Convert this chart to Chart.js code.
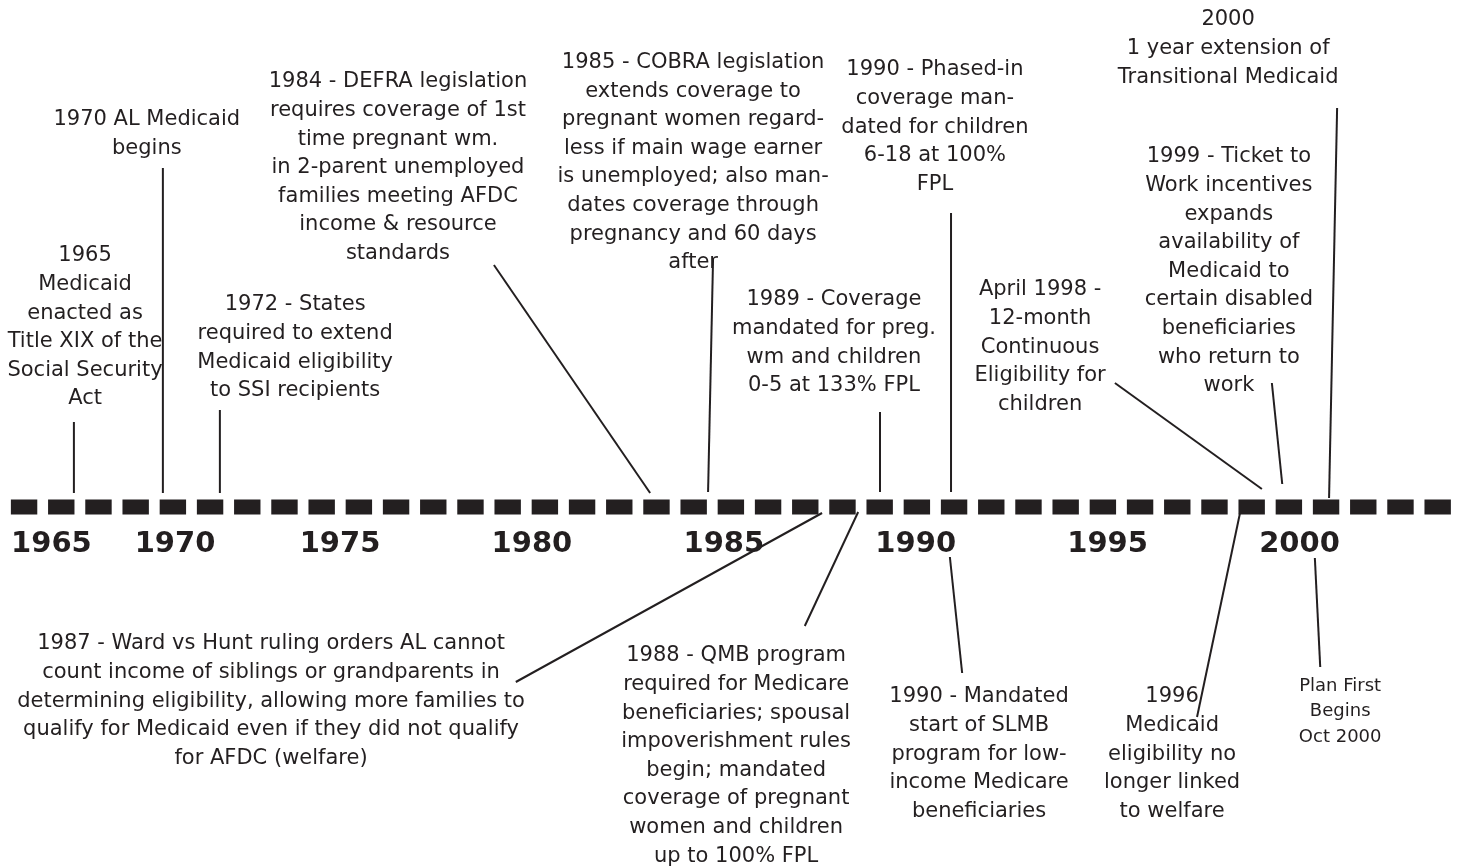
<!DOCTYPE html>
<html>
<head>
<meta charset="utf-8">
<title>Alabama Medicaid timeline</title>
<script src="https://cdn.jsdelivr.net/npm/chart.js@4/dist/chart.umd.min.js"></script>
<style>
  html, body { margin: 0; padding: 0; background: #fff; }
  #wrap { width: 1463px; height: 867px; }
</style>
</head>
<body>
<div id="wrap"><canvas id="timeline"></canvas></div>
<script>
// year labels printed under the timeline
const tickYears = [1965, 1970, 1975, 1980, 1985, 1990, 1995, 2000];

// year at which each event's pointer meets the timeline
const eventYears = [
  1965.91, 1969.51, 1971.36, 1983.08, 1984.59, 1989.07, 1990.92, 1999.02, 1999.55, 2000.77,
  1987.56, 1988.50, 1990.89, 1998.45, 2000.40,
];

const eventTexts = [
  ["1965", "Medicaid", "enacted as", "Title XIX of the", "Social Security", "Act"],
  ["1970 AL Medicaid", "begins"],
  ["1972 - States", "required to extend", "Medicaid eligibility", "to SSI recipients"],
  ["1984 - DEFRA legislation", "requires coverage of 1st", "time pregnant wm.", "in 2-parent unemployed",
    "families meeting AFDC", "income & resource", "standards"],
  ["1985 - COBRA legislation", "extends coverage to", "pregnant women regard-", "less if main wage earner",
    "is unemployed; also man-", "dates coverage through", "pregnancy and 60 days", "after"],
  ["1989 - Coverage", "mandated for preg.", "wm and children", "0-5 at 133% FPL"],
  ["1990 - Phased-in", "coverage man-", "dated for children", "6-18 at 100%", "FPL"],
  ["April 1998 -", "12-month", "Continuous", "Eligibility for", "children"],
  ["1999 - Ticket to", "Work incentives", "expands", "availability of", "Medicaid to",
    "certain disabled", "beneficiaries", "who return to", "work"],
  ["2000", "1 year extension of", "Transitional Medicaid"],
  ["1987 - Ward vs Hunt ruling orders AL cannot", "count income of siblings or grandparents in",
    "determining eligibility, allowing more families to", "qualify for Medicaid even if they did not qualify",
    "for AFDC (welfare)"],
  ["1988 - QMB program", "required for Medicare", "beneficiaries; spousal", "impoverishment rules",
    "begin; mandated", "coverage of pregnant", "women and children", "up to 100% FPL"],
  ["1990 - Mandated", "start of SLMB", "program for low-", "income Medicare", "beneficiaries"],
  ["1996", "Medicaid", "eligibility no", "longer linked", "to welfare"],
  ["Plan First", "Begins", "Oct 2000"],
];

// layout, in axis units: x in years, y = height above (+) or below (-) the timeline
const textX = [1966.36, 1968.86, 1973.64, 1976.51, 1984.20, 1987.87, 1990.50, 1993.24, 1998.16, 1998.14,
  1972.91, 1985.32, 1991.65, 1996.68, 2001.06];
const textY = [25.1, 38.75, 20.2, 42.5, 44.45, 20.7, 43.7, 21.7, 35.0, 48.7,
  -13.7, -14.9, -19.0, -19.0, -17.9];
const linkFromY = [1.4, 1.4, 1.4, 1.4, 1.5, 1.5, 1.5, 1.8, 2.3, 0.9,
  -0.6, -0.5, -5.0, -0.6, -5.1];
const linkToX = [1965.91, 1969.51, 1971.36, 1979.01, 1984.72, 1989.07, 1990.92, 1995.19, 1999.28, 2000.98,
  1979.58, 1987.11, 1991.21, 1997.33, 2000.54];
const linkToY = [8.5, 33.9, 9.7, 24.2, 24.9, 9.5, 29.4, 12.4, 12.4, 39.9,
  -17.5, -11.9, -16.6, -21.0, -16.0];
const smallTexts = [14];

const ink = "#231f20";

// the original squeezes 1965-1975; each entry: [from year, width of a year relative to later years]
const yearStretch = [[1965, 0.644], [1970, 0.86], [1975, 1]];

class TimelineScale extends Chart.LinearScale {
  warp(v) {
    const s = yearStretch;
    if (v < s[0][0]) return (v - s[0][0]) * s[0][1];
    let u = 0;
    for (let i = 0; i < s.length; i++) {
      const end = i + 1 < s.length ? s[i + 1][0] : Infinity;
      if (v <= end) return u + (v - s[i][0]) * s[i][1];
      u += (end - s[i][0]) * s[i][1];
    }
    return u;
  }
  getPixelForValue(v) {
    const a = this.warp(this.min);
    const b = this.warp(this.max);
    return this.getPixelForDecimal((this.warp(v) - a) / (b - a));
  }
}
TimelineScale.id = "timeline";
TimelineScale.defaults = Chart.LinearScale.defaults;
Chart.register(TimelineScale);

const datasets = [
  {
    label: "timeline",
    data: [{ x: 1963.36, y: 0 }, { x: 2003.95, y: 0 }],
    borderColor: ink,
    borderWidth: 15,
    borderDash: [26.4, 10.8],
    borderCapStyle: "butt",
    pointRadius: 0,
  },
];
eventYears.forEach((yr, i) => {
  datasets.push({
    label: eventTexts[i][0],
    data: [{ x: yr, y: linkFromY[i] }, { x: linkToX[i], y: linkToY[i] }],
    borderColor: ink,
    borderWidth: 2,
    pointRadius: 0,
  });
});

const eventLabels = {
  id: "eventLabels",
  afterDatasetsDraw(chart) {
    const { ctx, scales } = chart;
    ctx.save();
    ctx.fillStyle = ink;
    ctx.textAlign = "center";
    ctx.textBaseline = "middle";
    eventTexts.forEach((lines, i) => {
      const small = smallTexts.includes(i);
      const lh = small ? 25.5 : 28.6;
      ctx.font = (small ? 18 : 21) + 'px "DejaVu Sans"';
      const cx = scales.x.getPixelForValue(textX[i]);
      const top = scales.y.getPixelForValue(textY[i]);
      lines.forEach((s, k) => ctx.fillText(s, cx, top + k * lh));
    });
    ctx.restore();
  },
};

new Chart(document.getElementById("timeline"), {
  type: "line",
  data: { datasets },
  options: {
    responsive: true,
    maintainAspectRatio: false,
    animation: false,
    events: [],
    layout: { padding: 0 },
    plugins: { legend: { display: false }, tooltip: { enabled: false } },
    scales: {
      x: {
        type: "timeline",
        min: 1962.92,
        max: 2004.26,
        bounds: "data",
        position: { y: 0 },
        grid: { display: false, drawTicks: false },
        border: { display: false },
        afterBuildTicks: (scale) => {
          scale.ticks = tickYears.map((v) => ({ value: v }));
        },
        afterFit: (scale) => {
          // the axis sits on the timeline, so it takes no room of its own
          scale.height = 0;
          scale.paddingLeft = 0;
          scale.paddingRight = 0;
        },
        ticks: {
          autoSkip: false,
          maxRotation: 0,
          padding: 20.5,
          color: ink,
          font: { family: "DejaVu Sans", size: 29, weight: "bold" },
          callback: (v) => String(v),
        },
      },
      y: {
        type: "linear",
        display: false,
        min: -36,
        max: 50.7,
      },
    },
  },
  plugins: [eventLabels],
});
</script>
</body>
</html>
